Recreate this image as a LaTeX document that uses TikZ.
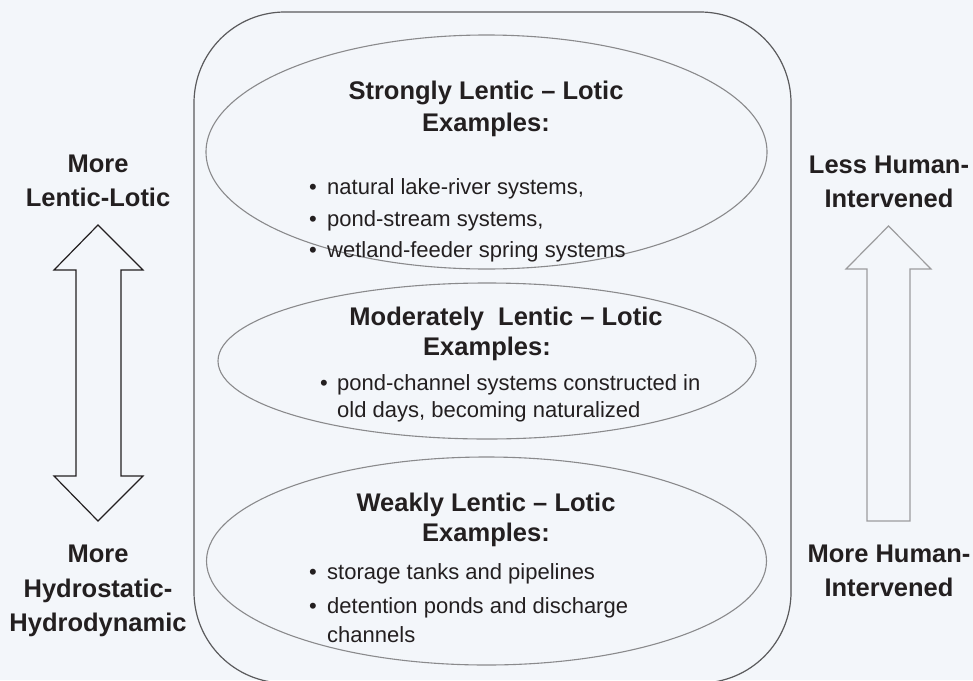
\documentclass[tikz,border=0pt]{standalone}
\usepackage{fontspec}
\setmainfont{Liberation Sans}
\usetikzlibrary{shapes.geometric}
\definecolor{bg}{HTML}{F3F6FA}
\definecolor{txt}{HTML}{231F20}
\definecolor{boxline}{HTML}{5A5A5C}
\definecolor{ellline}{HTML}{8A8A8C}
\definecolor{arrR}{HTML}{9C9C9E}
\tikzset{
  title/.style={font=\fontsize{25.5}{30}\selectfont\bfseries, text=txt, inner sep=0pt, anchor=base},
  side/.style={font=\fontsize{25.5}{30}\selectfont\bfseries, text=txt, inner sep=0pt, anchor=base},
  item/.style={font=\fontsize{22}{27}\selectfont, text=txt, inner sep=0pt, anchor=base west},
  bul/.style={font=\fontsize{22}{27}\selectfont, text=txt, inner sep=0pt, anchor=base},
  oval/.style={ellipse, draw=ellline, line width=1.1pt, inner sep=0pt},
}
\begin{document}
\begin{tikzpicture}[x=1pt,y=-1pt]
\useasboundingbox (0,0) rectangle (973,680);
\fill[bg] (0,0) rectangle (973,680);
\begin{scope}
\clip (0,0) rectangle (973,680);
\draw[boxline, line width=1.2pt, rounded corners=91pt] (194,12) rectangle (791,683);
\end{scope}

% ellipses
\node[oval, minimum width=561pt, minimum height=234pt] (e1) at (486.5,152) {};
\node[oval, minimum width=538pt, minimum height=156pt] (e2) at (487,361) {};
\node[oval, minimum width=560pt, minimum height=208pt] (e3) at (486.5,561) {};

% top ellipse text
\node[title] (t1a) at (486,99) {Strongly Lentic – Lotic};
\node[title] (t1b) at (486,131) {Examples:};
\node[bul] (b1a) at (313,194) {•};
\node[item] (i1a) at (327,194) {natural lake-river systems,};
\node[bul] (b1b) at (313,226) {•};
\node[item] (i1b) at (327,226) {pond-stream systems,};
\node[bul] (b1c) at (313,257) {•};
\node[item] (i1c) at (327,257) {wetland-feeder spring systems};

% middle ellipse text
\node[title] (t2a) at (506,325) {Moderately\ \ Lentic – Lotic};
\node[title] (t2b) at (487,355) {Examples:};
\node[bul] (b2a) at (324,390) {•};
\node[item] (i2a) at (337,390) {pond-channel systems constructed in};
\node[item] (i2b) at (337,417) {old days, becoming naturalized};

% bottom ellipse text
\node[title] (t3a) at (486,511) {Weakly Lentic – Lotic};
\node[title] (t3b) at (486,541) {Examples:};
\node[bul] (b3a) at (313,579) {•};
\node[item] (i3a) at (327,579) {storage tanks and pipelines};
\node[bul] (b3b) at (313,613) {•};
\node[item] (i3b) at (327,613) {detention ponds and discharge};
\node[item] (i3c) at (327,642) {channels};

% left labels
\node[side] (l1) at (98,172) {More};
\node[side] (l2) at (98,206) {Lentic-Lotic};
\node[side] (l3) at (98,562) {More};
\node[side] (l4) at (98,597) {Hydrostatic-};
\node[side] (l5) at (98,631) {Hydrodynamic};

% right labels
\node[side] (r1) at (889,173) {Less Human-};
\node[side] (r2) at (889,207) {Intervened};
\node[side] (r3) at (889,562) {More Human-};
\node[side] (r4) at (889,596) {Intervened};

% left double arrow
\draw[txt, line width=1.2pt, fill=bg, line join=miter]
  (98,225) -- (143,270) -- (121,270) -- (121,476) -- (143,476) -- (98,521)
  -- (54,476) -- (76,476) -- (76,270) -- (54,270) -- cycle;

% right arrow
\draw[arrR, line width=1.2pt, fill=bg, line join=miter]
  (888.5,226) -- (931,269) -- (910,269) -- (910,521) -- (867,521) -- (867,269)
  -- (846,269) -- cycle;
\end{tikzpicture}
\end{document}
